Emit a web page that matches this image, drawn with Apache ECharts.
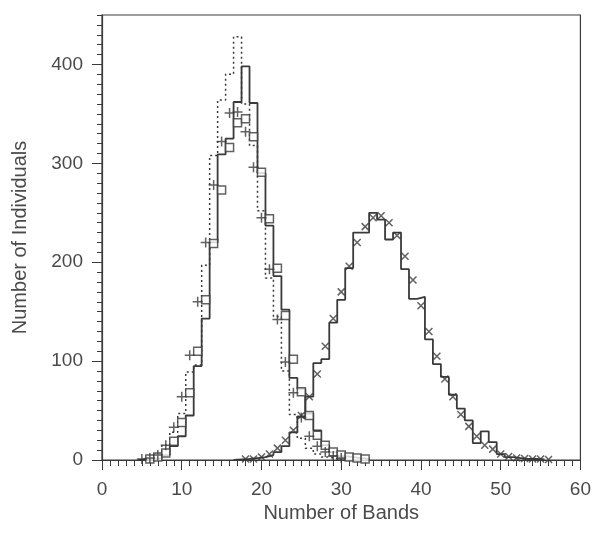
<!DOCTYPE html>
<html>
<head>
<meta charset="utf-8">
<script src="https://cdn.jsdelivr.net/npm/echarts@6/dist/echarts.min.js"></script>
<style>
  html, body { margin: 0; padding: 0; background: #fff; }
  #chart-container { width: 594px; height: 542px; }
</style>
</head>
<body>
<div id="chart-container"></div>
<script>
var dom = document.getElementById("chart-container");
var myChart = echarts.init(dom, null, { renderer: "canvas" });

// left distribution, bins start at 5
var leftStart = 5;
var leftSolid = [0.5, 1, 2, 5, 14, 24, 45, 95, 143, 220, 309, 325, 362, 398, 361,
  290, 237, 186, 152, 83, 72, 47, 30, 15, 8, 4, 3, 2, 1];
var leftDotted = [1, 2, 6, 15, 28, 47, 89, 96, 197, 308, 364, 390, 428, 360, 318,
  252, 184, 145, 90, 46, 22, 12, 6, 3, 1];
var plusX = [5, 6, 7, 8, 9, 10, 11, 12, 13, 14, 15, 16, 17, 18, 19, 20, 21, 22, 23, 24, 25, 26, 27, 28, 29, 30];
var plusY = [1, 2, 5, 15, 33, 64, 106, 160, 220, 278, 322, 351, 352, 332, 296, 245, 193, 142, 99, 68, 43, 24, 14, 8, 4, 2];
var squareX = [6, 7, 8, 9, 10, 11, 12, 13, 14, 15, 16, 17, 18, 19, 20, 21, 22, 23, 24, 25, 26, 27, 28, 29, 30, 31, 32, 33];
var squareY = [1, 3, 7, 19, 38, 68, 110, 162, 219, 273, 316, 341, 345, 327, 291, 244, 194, 146, 102, 69, 45, 25, 15, 8, 5, 3, 2, 1];

// right distribution, bins start at 17
var rightStart = 17;
var rightSolid = [0.5, 1, 2, 3, 5, 8, 14, 28, 44, 64, 98, 102, 139, 162, 194, 230, 230,
  250, 243, 223, 230, 193, 163, 165, 122, 97, 84, 66, 52, 40, 17, 29, 18, 6, 3, 2, 1, 1, 0.5];
var crossX = [18, 19, 20, 21, 22, 23, 24, 25, 26, 27, 28, 29, 30, 31, 32, 33, 34, 35, 36, 37,
  38, 39, 40, 41, 42, 43, 44, 45, 46, 47, 48, 49, 50, 51, 52, 53, 54, 55, 56];
var crossY = [1, 1, 3, 6, 12, 20, 30, 45, 64, 87, 115, 143, 170, 196, 220, 236, 245, 247, 240, 227,
  206, 182, 156, 130, 105, 82, 64, 46, 34, 24, 15, 11, 6, 3.5, 2, 1.5, 1, 1, 0.5];

var ink = "#3a3a3a";
var textInk = "#4a4a4a";
var font = "Liberation Sans";

// turn bin counts into step outline points (bin n spans n-0.5..n+0.5)
function steps(start, vals) {
  var pts = [[start - 0.5, 0]];
  vals.forEach(function (v, i) {
    pts.push([start + i - 0.5, v]);
    pts.push([start + i + 0.5, v]);
  });
  pts.push([start + vals.length - 0.5, 0]);
  return pts;
}
function pairs(xs, ys) {
  return xs.map(function (x, i) { return [x, ys[i]]; });
}

var option = {
  animation: false,
  grid: {
    left: 102, right: 13, top: 15, bottom: 82,
    show: true, borderColor: ink, borderWidth: 1.2
  },
  xAxis: {
    type: "value", min: 0, max: 60, interval: 10,
    name: "Number of Bands", nameLocation: "middle", nameGap: 40,
    nameTextStyle: { fontFamily: font, fontSize: 20, color: textInk },
    axisLine: { lineStyle: { color: ink, width: 1.2 } },
    axisTick: { length: 10, lineStyle: { color: ink } },
    minorTick: { show: true, splitNumber: 10, length: 6, lineStyle: { color: ink } },
    axisLabel: { margin: 20, fontFamily: font, fontSize: 19, color: textInk },
    splitLine: { show: false }
  },
  yAxis: [
    {
      type: "value", min: 0, max: 450, interval: 10,
      axisLine: { show: true, lineStyle: { color: ink, width: 1.2 } },
      axisTick: { length: 5, lineStyle: { color: ink } },
      axisLabel: { show: false },
      splitLine: { show: false }
    },
    {
      type: "value", min: 0, max: 450, position: "left",
      name: "Number of Individuals", nameLocation: "middle", nameGap: 72,
      nameTextStyle: { fontFamily: font, fontSize: 20, color: textInk },
      axisLine: { show: false },
      axisTick: { show: true, length: 10, customValues: [0, 100, 200, 300, 400], lineStyle: { color: ink } },
      axisLabel: { margin: 19, customValues: [0, 100, 200, 300, 400], fontFamily: font, fontSize: 19, color: textInk },
      splitLine: { show: false }
    }
  ],
  series: [
    {
      type: "line", data: steps(leftStart, leftDotted), showSymbol: false,
      lineStyle: { color: ink, width: 1.5, type: [2, 3] }, z: 2
    },
    {
      type: "line", data: steps(leftStart, leftSolid), showSymbol: false,
      lineStyle: { color: ink, width: 1.8 }, z: 3
    },
    {
      type: "line", data: steps(rightStart, rightSolid), showSymbol: false,
      lineStyle: { color: ink, width: 1.8 }, z: 3
    },
    {
      type: "scatter", data: pairs(squareX, squareY), symbol: "rect", symbolSize: 8,
      itemStyle: { color: "#fff", borderColor: ink, borderWidth: 1.5 }, z: 4
    },
    {
      type: "scatter", data: pairs(plusX, plusY), symbol: "path://M0,-1L0,1M-1,0L1,0", symbolSize: 10,
      itemStyle: { color: "rgba(0,0,0,0)", borderColor: ink, borderWidth: 1.5 }, z: 5
    },
    {
      type: "scatter", data: pairs(crossX, crossY), symbol: "path://M-1,-1L1,1M-1,1L1,-1", symbolSize: 7,
      itemStyle: { color: "rgba(0,0,0,0)", borderColor: ink, borderWidth: 1.5 }, z: 5
    }
  ]
};

myChart.setOption(option);
</script>
</body>
</html>
